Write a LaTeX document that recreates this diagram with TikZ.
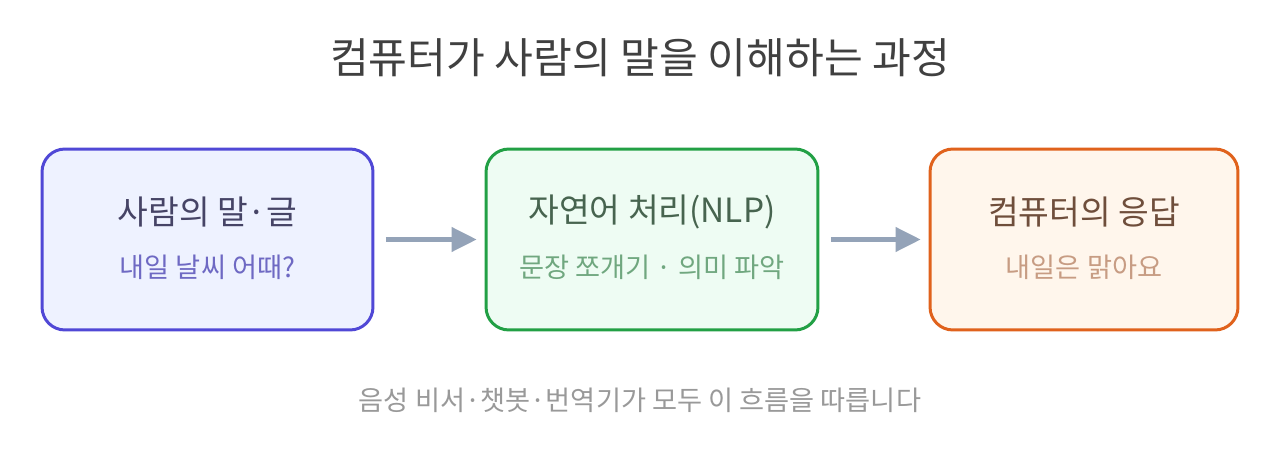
\documentclass[tikz,border=0pt]{standalone}
\usepackage{fontspec}
\setmainfont{Noto Sans CJK KR}
\definecolor{inkA}{HTML}{5048D6}
\definecolor{fillA}{HTML}{EEF2FF}
\definecolor{inkB}{HTML}{22A045}
\definecolor{fillB}{HTML}{EEFCF3}
\definecolor{inkC}{HTML}{E0621C}
\definecolor{fillC}{HTML}{FFF6EC}
\definecolor{arrowgray}{HTML}{94A3B8}
\usetikzlibrary{arrows.meta,positioning}
\tikzset{
  stage/.style={draw,line width=1.7pt,rounded corners=13pt,minimum height=3.62cm},
  head/.style={font=\fontsize{19}{22}\selectfont,inner sep=0pt},
  sub/.style={font=\fontsize{15.5}{18}\selectfont,inner sep=0pt},
  arr/.style={-{Triangle[length=5mm,width=4.8mm]},line width=2.3pt,arrowgray}
}
\begin{document}
\begin{tikzpicture}[x=0.02cm,y=-0.02cm]
    \useasboundingbox[fill=white] (0,0) rectangle (1280,469);
    \node[font=\fontsize{24}{28}\selectfont,text=black!75] (title) at (640,58) {컴퓨터가 사람의 말을 이해하는 과정};
    \node[stage,draw=inkA,fill=fillA,minimum width=6.62cm] (human) at (207.5,239.5) {};
    \node[stage,draw=inkB,fill=fillB,minimum width=6.64cm] (nlp) at (652,239.5) {};
    \node[stage,draw=inkC,fill=fillC,minimum width=6.16cm] (reply) at (1084,239.5) {};
    \node[head,text=black!60!inkA!60!gray] (humanh) at (207.5,212) {사람의 말·글};
    \node[sub,text=inkA!70!gray!90] (humans) at (207.5,267) {내일 날씨 어때?};
    \node[head,text=black!55!inkB!50!gray] (nlph) at (652,212) {자연어 처리(NLP)};
    \node[sub,text=inkB!55!gray!80] (nlps) at (652,267) {문장 쪼개기 · 의미 파악};
    \node[head,text=black!55!inkC!60!gray] (replyh) at (1084,212) {컴퓨터의 응답};
    \node[sub,text=inkC!50!gray!70] (replys) at (1084,267) {내일은 맑아요};
    \draw[arr,shorten <=6.5pt,shorten >=4.5pt] (human.east) -- (nlp.west);
    \draw[arr,shorten <=6.5pt,shorten >=4.5pt] (nlp.east) -- (reply.west);
    \node[sub,text=black!40] (note) at (640,400) {음성 비서·챗봇·번역기가 모두 이 흐름을 따릅니다};
\end{tikzpicture}
\end{document}
